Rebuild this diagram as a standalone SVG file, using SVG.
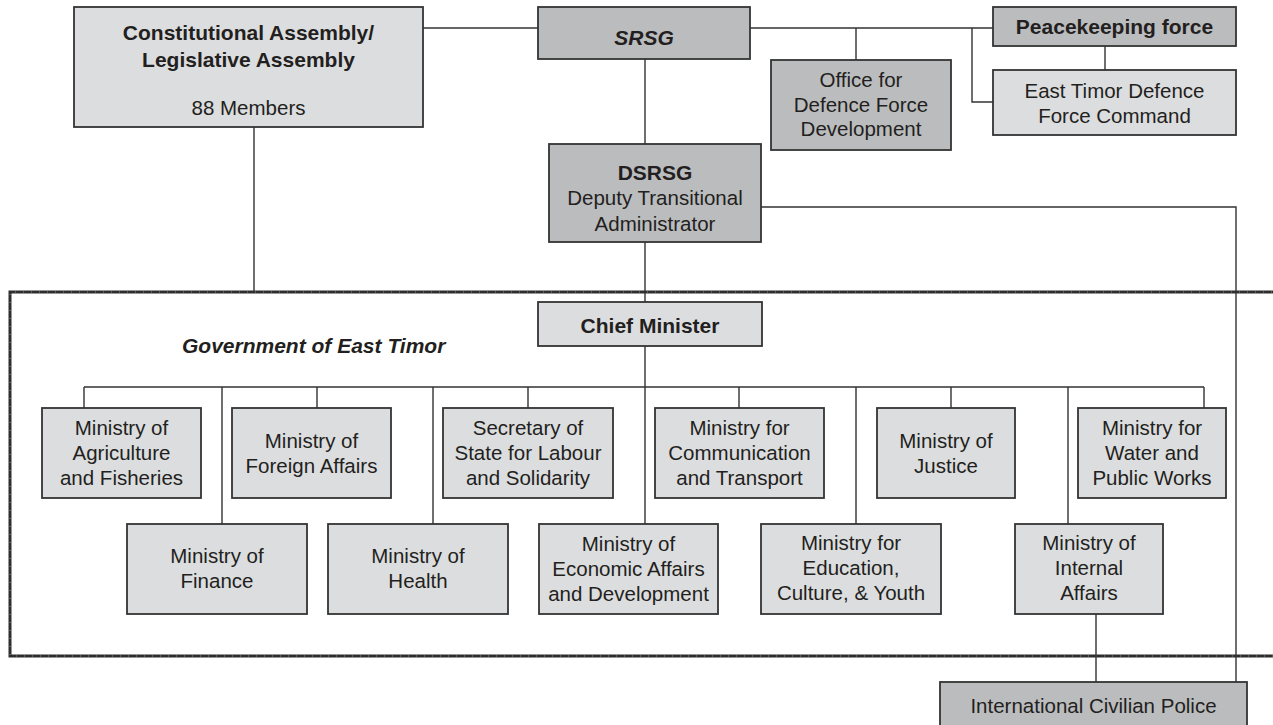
<svg xmlns="http://www.w3.org/2000/svg" width="1273" height="725" viewBox="0 0 1273 725">
<style>
text{font-family:"Liberation Sans",Arial,sans-serif;font-size:20.5px;fill:#231f20;text-anchor:middle}
.b{font-weight:bold;font-size:21px}
.bi{font-weight:bold;font-style:italic;font-size:21px}
.l{fill:#dcdddf;stroke:#333;stroke-width:1.8}
.d{fill:#bbbcbe;stroke:#333;stroke-width:1.8}
.c{fill:none;stroke:#333;stroke-width:1.4}
.g{fill:none;stroke:#2e2e2e;stroke-width:3}
.gt{fill:none;stroke:#8a8a8a;stroke-width:1;stroke-dasharray:1 7}
</style>
<rect width="1273" height="725" fill="#fff"/>
<g id="gov-frame">
<path class="g" d="M1280 292 H10 V656 H1280"/>
<path class="gt" d="M1280 292 H10 V656 H1280"/>
<text class="bi" x="182" y="353" style="text-anchor:start">Government of East Timor</text>
</g>
<g id="connectors">
<path class="c" d="M423 28 H538 M750 28 H993 M856 28 V60 M972 28 V102 H993 M1105 46 V70"/>
<path class="c" d="M645 59 V144 M645 242 V302 M645 346 V524 M254 127 V292"/>
<path class="c" d="M761 207 H1236 V682 M1096 614 V682"/>
<path class="c" d="M84 387 H1204 M84 387 V408 M317 387 V408 M528 387 V408 M739 387 V408 M951 387 V408 M1204 387 V408"/>
<path class="c" d="M222 387 V524 M433 387 V524 M856 387 V524 M1068 387 V524"/>
</g>
<g id="constitutional-assembly">
<rect class="l" x="74" y="7" width="349" height="120"/>
<text class="b" x="248.5" y="40">Constitutional Assembly/</text>
<text class="b" x="248.5" y="67">Legislative Assembly</text>
<text x="248.5" y="115">88 Members</text>
</g>
<g id="srsg">
<rect class="d" x="538" y="7" width="212" height="52"/>
<text class="bi" x="644" y="45">SRSG</text>
</g>
<g id="office-defence">
<rect class="d" x="771" y="60" width="180" height="90"/>
<text x="861" y="87">Office for</text>
<text x="861" y="112">Defence Force</text>
<text x="861" y="136">Development</text>
</g>
<g id="peacekeeping">
<rect class="d" x="993" y="7" width="243" height="39"/>
<text class="b" x="1114.5" y="34">Peacekeeping force</text>
</g>
<g id="etdf-command">
<rect class="l" x="993" y="70" width="243" height="65"/>
<text x="1114.5" y="98">East Timor Defence</text>
<text x="1114.5" y="123">Force Command</text>
</g>
<g id="dsrsg">
<rect class="d" x="549" y="144" width="212" height="98"/>
<text class="b" x="655" y="180">DSRSG</text>
<text x="655" y="205">Deputy Transitional</text>
<text x="655" y="231">Administrator</text>
</g>
<g id="chief-minister">
<rect class="l" x="538" y="302" width="224" height="44"/>
<text class="b" x="650" y="333">Chief Minister</text>
</g>
<g id="agriculture">
<rect class="l" x="42" y="408" width="159" height="90"/>
<text x="121.5" y="435">Ministry of</text>
<text x="121.5" y="460">Agriculture</text>
<text x="121.5" y="485">and Fisheries</text>
</g>
<g id="foreign-affairs">
<rect class="l" x="232" y="408" width="159" height="90"/>
<text x="311.5" y="448">Ministry of</text>
<text x="311.5" y="473">Foreign Affairs</text>
</g>
<g id="labour">
<rect class="l" x="443" y="408" width="170" height="90"/>
<text x="528" y="435">Secretary of</text>
<text x="528" y="460">State for Labour</text>
<text x="528" y="485">and Solidarity</text>
</g>
<g id="communication">
<rect class="l" x="655" y="408" width="169" height="90"/>
<text x="739.5" y="435">Ministry for</text>
<text x="739.5" y="460">Communication</text>
<text x="739.5" y="485">and Transport</text>
</g>
<g id="justice">
<rect class="l" x="877" y="408" width="138" height="90"/>
<text x="946" y="448">Ministry of</text>
<text x="946" y="473">Justice</text>
</g>
<g id="water">
<rect class="l" x="1078" y="408" width="148" height="90"/>
<text x="1152" y="435">Ministry for</text>
<text x="1152" y="460">Water and</text>
<text x="1152" y="485">Public Works</text>
</g>
<g id="finance">
<rect class="l" x="127" y="524" width="180" height="90"/>
<text x="217" y="563">Ministry of</text>
<text x="217" y="588">Finance</text>
</g>
<g id="health">
<rect class="l" x="328" y="524" width="180" height="90"/>
<text x="418" y="563">Ministry of</text>
<text x="418" y="588">Health</text>
</g>
<g id="economic">
<rect class="l" x="539" y="524" width="179" height="90"/>
<text x="628.5" y="551">Ministry of</text>
<text x="628.5" y="576">Economic Affairs</text>
<text x="628.5" y="601">and Development</text>
</g>
<g id="education">
<rect class="l" x="761" y="524" width="180" height="90"/>
<text x="851" y="550">Ministry for</text>
<text x="851" y="575">Education,</text>
<text x="851" y="600">Culture, &amp; Youth</text>
</g>
<g id="internal-affairs">
<rect class="l" x="1015" y="524" width="148" height="90"/>
<text x="1089" y="550">Ministry of</text>
<text x="1089" y="575">Internal</text>
<text x="1089" y="600">Affairs</text>
</g>
<g id="civilian-police">
<rect class="d" x="940" y="682" width="307" height="60"/>
<text x="1093.5" y="713">International Civilian Police</text>
</g>
</svg>
